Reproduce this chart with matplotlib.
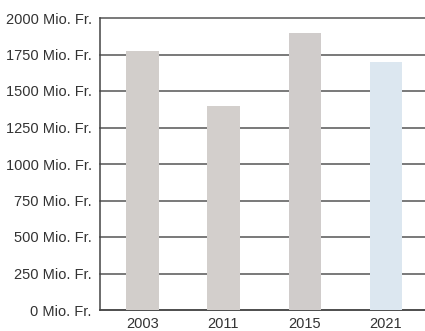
import matplotlib
matplotlib.use("Agg")
import matplotlib.pyplot as plt

years = ["2003", "2011", "2015", "2021"]
values = [1775, 1400, 1900, 1700]
bar_colors = ["#d2cecb", "#d3cfcc", "#d0cccb", "#dce7f0"]
y_ticks = [0, 250, 500, 750, 1000, 1250, 1500, 1750, 2000]

plt.rcParams["font.family"] = ["Liberation Sans", "DejaVu Sans"]

fig = plt.figure(figsize=(4.25, 3.31), dpi=100)
ax = fig.add_axes([100 / 425, 21 / 331, 325 / 425, 292 / 331])

x = range(len(years))
ax.bar(x, values, width=0.4, color=bar_colors, zorder=3)

ax.set_ylim(0, 2000)
ax.set_xlim(-0.52, 3.48)
ax.set_yticks(y_ticks)
ax.set_yticklabels([f"{v} Mio. Fr." for v in y_ticks], fontsize=10.5, color="#333333")
ax.set_xticks(list(x))
ax.set_xticklabels(years, fontsize=10.5, color="#333333")
ax.tick_params(length=0)
ax.tick_params(axis="y", pad=6)
ax.tick_params(axis="x", pad=5)

ax.grid(axis="y", color="#555555", linewidth=1.1, zorder=1)
for gl in ax.get_ygridlines():
    gl.set_clip_on(False)
for side in ["top", "right"]:
    ax.spines[side].set_visible(False)
ax.spines["left"].set_color("#444444")
ax.spines["bottom"].set_color("#444444")
ax.spines["left"].set_linewidth(1.1)
ax.spines["bottom"].set_linewidth(1.1)

fig.savefig("out.png", dpi=100)
